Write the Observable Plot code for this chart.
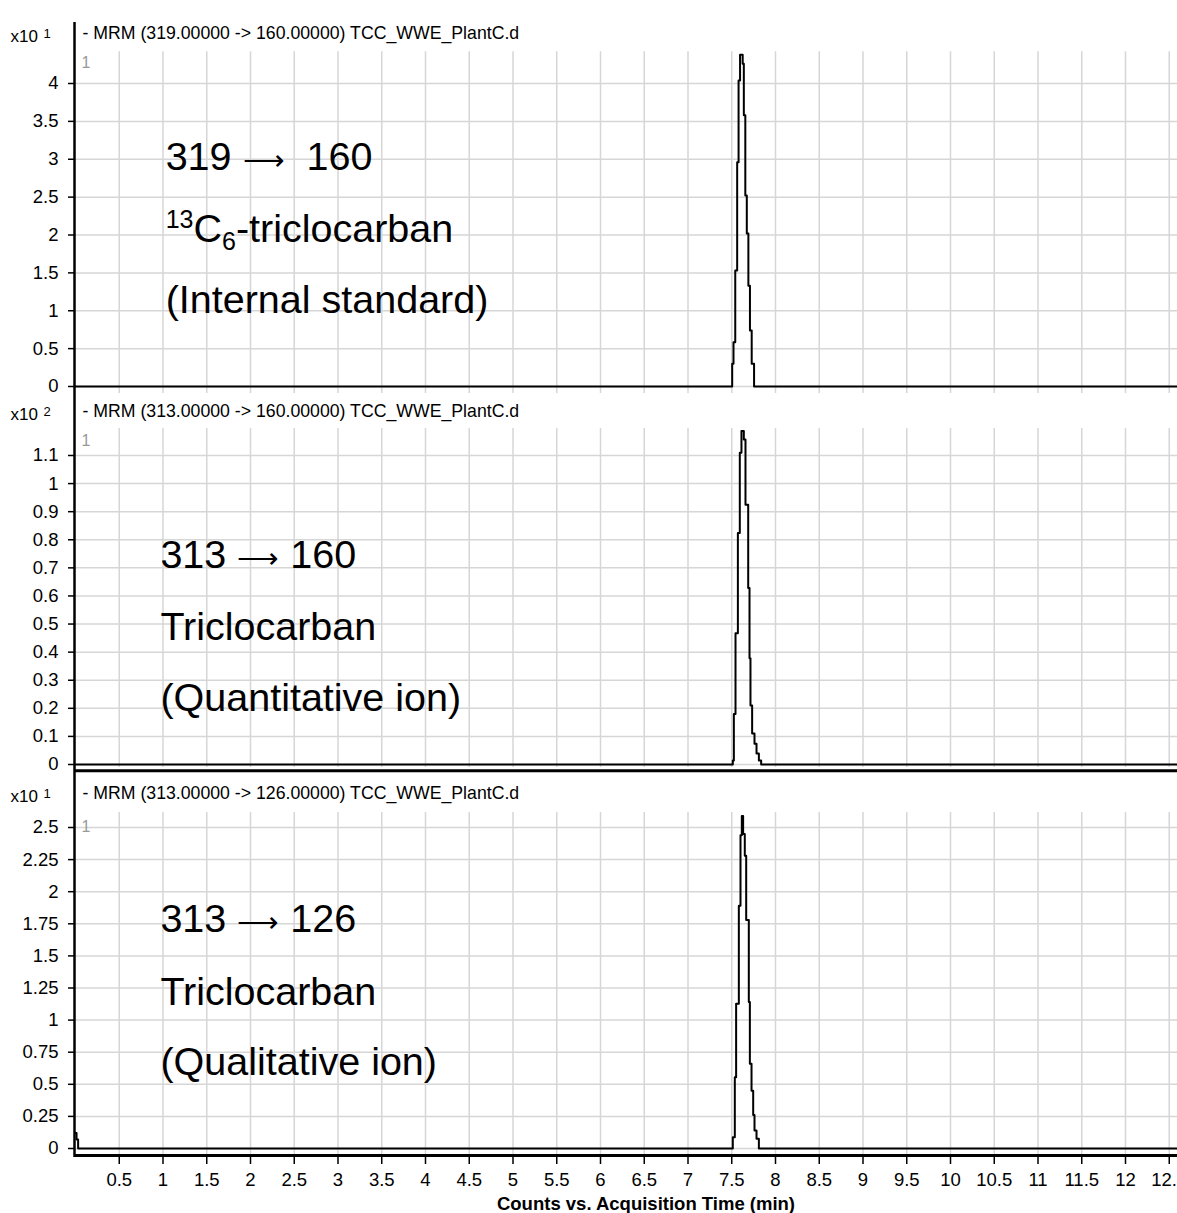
<!DOCTYPE html>
<html>
<head>
<meta charset="utf-8">
<script src="https://cdn.jsdelivr.net/npm/d3@7"></script>
<script src="https://cdn.jsdelivr.net/npm/@observablehq/plot@0.6"></script>
<style>
  html, body { margin: 0; padding: 0; background: #fff; }
  #chart { position: relative; width: 1177px; height: 1213px; overflow: hidden; background: #fff;
           font-family: "Liberation Sans", Arial, sans-serif; }
  #chart svg { position: absolute; left: 0; overflow: visible; }
  #xtitle { position: absolute; left: 0; width: 1292px; top: 1193px; text-align: center;
            font: bold 18.5px "Liberation Sans", Arial, sans-serif; color: #000; }
</style>
</head>
<body>
<div id="chart"></div>
<script>
// ---------------- data ----------------
const xTicks = [0.5, 1, 1.5, 2, 2.5, 3, 3.5, 4, 4.5, 5, 5.5, 6, 6.5, 7, 7.5, 8, 8.5, 9, 9.5, 10, 10.5, 11, 11.5, 12, 12.5];
const xTickLabels = ["0.5", "1", "1.5", "2", "2.5", "3", "3.5", "4", "4.5", "5", "5.5", "6", "6.5", "7", "7.5", "8", "8.5", "9", "9.5", "10", "10.5", "11", "11.5", "12", "12.5"];
const xTitle = "Counts vs. Acquisition Time (min)";

// Panel 1: MRM 319 -> 160 (x10^1 counts)
const p1Header = "- MRM (319.00000 -> 160.00000) TCC_WWE_PlantC.d";
const p1Exponent = "1";
const p1Times  = [0, 7.505, 7.52, 7.54, 7.562, 7.578, 7.595, 7.625, 7.638, 7.655, 7.672, 7.69, 7.708, 7.728, 7.755, 12.6];
const p1Counts = [0, 0.30, 0.585, 1.53, 2.96, 4.04, 4.38, 4.26, 3.58, 2.52, 2.02, 1.33, 0.74, 0.30, 0, 0];
const p1YTicks  = [0, 0.5, 1, 1.5, 2, 2.5, 3, 3.5, 4];
const p1YLabels = ["0", "0.5", "1", "1.5", "2", "2.5", "3", "3.5", "4"];
const p1Notes = ["319 \u27F6  160", "13C6-triclocarban", "(Internal standard)"];
const p1NoteY = [3.02, 2.07, 1.135];

// Panel 2: MRM 313 -> 160 (x10^2 counts)
const p2Header = "- MRM (313.00000 -> 160.00000) TCC_WWE_PlantC.d";
const p2Exponent = "2";
const p2Times  = [0, 7.512, 7.524, 7.543, 7.57, 7.592, 7.611, 7.638, 7.657, 7.688, 7.703, 7.714, 7.733, 7.76, 7.783, 7.81, 7.836, 12.6];
const p2Counts = [0, 0.014, 0.18, 0.467, 0.824, 1.11, 1.187, 1.157, 0.925, 0.628, 0.378, 0.21, 0.11, 0.074, 0.039, 0.014, 0, 0];
const p2YTicks  = [0, 0.1, 0.2, 0.3, 0.4, 0.5, 0.6, 0.7, 0.8, 0.9, 1, 1.1];
const p2YLabels = ["0", "0.1", "0.2", "0.3", "0.4", "0.5", "0.6", "0.7", "0.8", "0.9", "1", "1.1"];
const p2Notes = ["313 \u27F6 160", "Triclocarban", "(Quantitative ion)"];
const p2NoteY = [0.744, 0.488, 0.235];

// Panel 3: MRM 313 -> 126 (x10^1 counts)
const p3Header = "- MRM (313.00000 -> 126.00000) TCC_WWE_PlantC.d";
const p3Exponent = "1";
const p3Times  = [0, 0.012, 0.03, 7.512, 7.535, 7.55, 7.581, 7.6, 7.615, 7.63, 7.649, 7.665, 7.695, 7.707, 7.726, 7.745, 7.76, 7.783, 7.81, 12.6];
const p3Counts = [0.12, 0.07, 0, 0.088, 0.555, 1.127, 1.89, 2.44, 2.59, 2.45, 2.28, 1.78, 1.14, 0.66, 0.45, 0.26, 0.14, 0.075, 0, 0];
const p3YTicks  = [0, 0.25, 0.5, 0.75, 1, 1.25, 1.5, 1.75, 2, 2.25, 2.5];
const p3YLabels = ["0", "0.25", "0.5", "0.75", "1", "1.25", "1.5", "1.75", "2", "2.25", "2.5"];
const p3Notes = ["313 \u27F6 126", "Triclocarban", "(Qualitative ion)"];
const p3NoteY = [1.783, 1.215, 0.67];

// ---------------- layout ----------------
const W = 1177;
const FONT = "Liberation Sans, Arial, sans-serif";
const GRID = "#d6d6d6";
const NOTE_SIZE = 39.5;
const xScale = {domain: [0, 12], range: [75, 1125], axis: null};

const panels = [
  {top: 0,   height: 400, mt: 22, mb: 0,  yRange: [386, 83],  gridLo: -0.092, gridHi: 4.42,
   headerDy: 11, oneDy: 40, noteX: 1.03, bottomRule: null, xAxis: false,
   header: p1Header, exp: p1Exponent, times: p1Times, values: p1Counts, yTicks: p1YTicks, yLabels: p1YLabels, notes: p1Notes, noteY: p1NoteY},
  {top: 400, height: 380, mt: 0,  mb: 0,  yRange: [364, 55],  gridLo: -0.011, gridHi: 1.196,
   headerDy: 11, oneDy: 40, noteX: 0.97, bottomRule: -0.022, xAxis: false,
   header: p2Header, exp: p2Exponent, times: p2Times, values: p2Counts, yTicks: p2YTicks, yLabels: p2YLabels, notes: p2Notes, noteY: p2NoteY},
  {top: 780, height: 433, mt: 0,  mb: 56, yRange: [368, 47],  gridLo: -0.055, gridHi: 2.617,
   headerDy: 13, oneDy: 46, noteX: 0.97, bottomRule: -0.055, xAxis: true,
   header: p3Header, exp: p3Exponent, times: p3Times, values: p3Counts, yTicks: p3YTicks, yLabels: p3YLabels, notes: p3Notes, noteY: p3NoteY}
];

const chart = document.getElementById("chart");

panels.forEach((cfg, idx) => {
  const data = cfg.times.map((t, i) => ({t, v: cfg.values[i]}));
  const labelOf = new Map(cfg.yTicks.map((d, i) => [d, cfg.yLabels[i]]));
  const xLabelOf = new Map(xTicks.map((d, i) => [d, xTickLabels[i]]));
  const notes = cfg.notes.map((s, i) => ({s, x: cfg.noteX, y: cfg.noteY[i]}));
  const yMax = cfg.yTicks[cfg.yTicks.length - 1];

  const marks = [
    // vertical grid
    Plot.ruleX(xTicks, {y1: cfg.gridLo, y2: cfg.gridHi, stroke: GRID, strokeWidth: 1.5}),
    // horizontal grid
    Plot.ruleY(cfg.yTicks, {stroke: GRID, strokeWidth: 1.5}),
    // y axis
    Plot.axisY(cfg.yTicks, {anchor: "left", tickSize: 7, tickPadding: 10, tickFormat: d => labelOf.get(d),
      fontSize: 18.5, label: null, strokeWidth: 1.5}),
    // header + exponent
    Plot.text([cfg.header], {frameAnchor: "top-left", dx: 7, dy: cfg.headerDy, textAnchor: "start", lineAnchor: "middle", fontSize: 17.7}),
    Plot.text(["x10"], {frameAnchor: "top-left", dx: -65, dy: cfg.headerDy + 3, textAnchor: "start", lineAnchor: "middle", fontSize: 17}),
    Plot.text([cfg.exp], {frameAnchor: "top-left", dx: -32, dy: cfg.headerDy, textAnchor: "start", lineAnchor: "middle", fontSize: 13}),
    Plot.text(["1"], {frameAnchor: "top-left", dx: 6, dy: cfg.oneDy, textAnchor: "start", lineAnchor: "middle", fontSize: 16, fill: "#999"}),
    // annotations
    Plot.text(notes, {x: "x", y: "y", text: "s", textAnchor: "start", lineAnchor: "middle", fontSize: NOTE_SIZE}),
    // trace
    Plot.line(data, {x: "t", y: "v", curve: "step-after", stroke: "#000", strokeWidth: 2}),
    // left axis line
    Plot.ruleX([0], {stroke: "#000", strokeWidth: 2.5, dx: -1})
  ];
  if (cfg.bottomRule !== null) {
    marks.push(Plot.ruleY([cfg.bottomRule], {stroke: "#000", strokeWidth: 3}));
  }
  if (cfg.xAxis) {
    marks.push(Plot.axisX(xTicks, {anchor: "bottom", tickSize: 7, tickPadding: 8, tickFormat: d => xLabelOf.get(d),
      fontSize: 18.5, label: null, strokeWidth: 1.5}));
  }

  const svg = Plot.plot({
    width: W,
    height: cfg.height,
    marginLeft: 75,
    marginRight: 0,
    marginTop: cfg.mt,
    marginBottom: cfg.mb,
    x: xScale,
    y: {domain: [0, yMax], range: cfg.yRange, axis: null},
    style: {fontFamily: FONT, fontSize: "16px", background: "transparent", overflow: "visible"},
    marks
  });
  svg.style.top = cfg.top + "px";
  chart.appendChild(svg);

  const texts = d3.select(svg).selectAll("text");
  // superscript/subscript for 13C6
  texts.filter(function() { return this.textContent === "13C6-triclocarban"; })
    .each(function() {
      const t = d3.select(this);
      t.text(null);
      t.append("tspan").attr("font-size", 25).attr("dy", -14).text("13");
      t.append("tspan").attr("font-size", NOTE_SIZE).attr("dy", 14).text("C");
      t.append("tspan").attr("font-size", 25).attr("dy", 8).text("6");
      t.append("tspan").attr("font-size", NOTE_SIZE).attr("dy", -8).text("-triclocarban");
    });
  // thinner, shorter transition arrow
  texts.filter(function() { return this.textContent.includes("\u27F6"); })
    .each(function() {
      const t = d3.select(this);
      const [before, after] = this.textContent.split("\u27F6");
      t.text(null);
      t.append("tspan").text(before);
      t.append("tspan").attr("font-size", 29).text("\u27F6");
      t.append("tspan").text(after);
    });
});

const title = document.createElement("div");
title.id = "xtitle";
title.textContent = xTitle;
chart.appendChild(title);
</script>
</body>
</html>
